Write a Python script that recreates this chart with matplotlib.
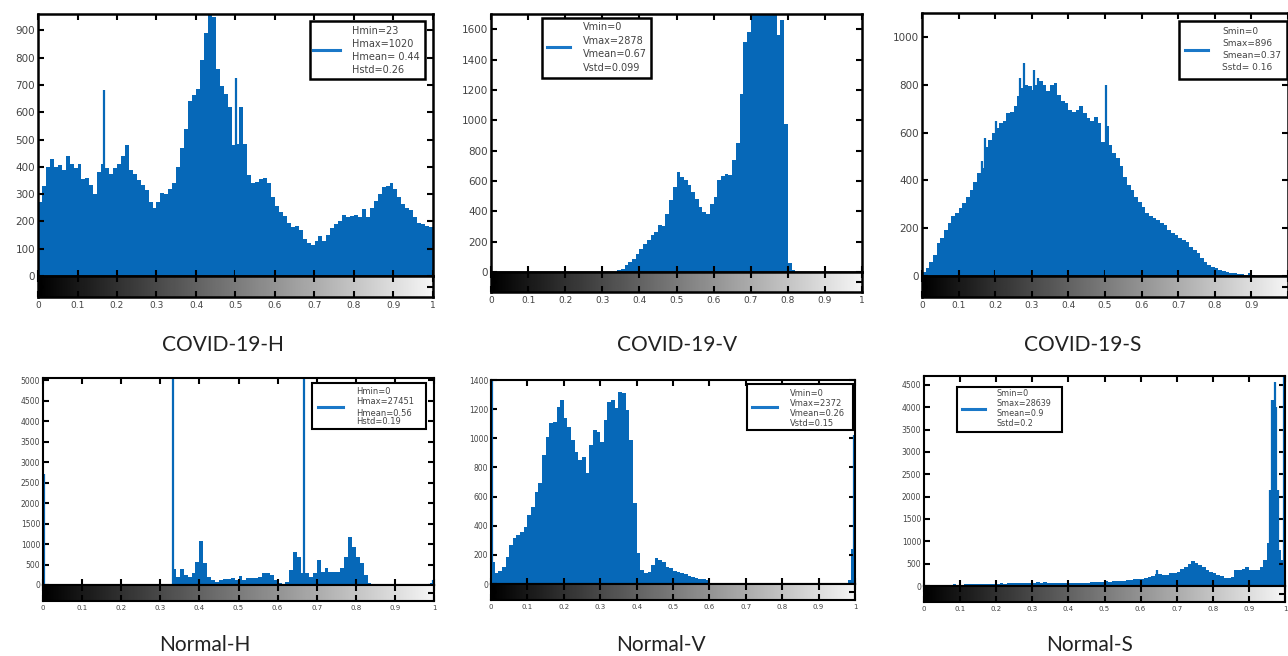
import numpy as np
import matplotlib
matplotlib.use("Agg")
import matplotlib.pyplot as plt
from matplotlib.patches import Rectangle
from matplotlib.lines import Line2D

# histogram counts, one value per 0.01-wide bin from 0 to 1
covid_h = [270, 330, 400, 430, 400, 405, 390, 440, 410, 395,
           410, 355, 360, 335, 300, 380, 410, 395, 375, 395,
           410, 440, 480, 390, 375, 350, 335, 315, 270, 250,
           270, 305, 300, 320, 340, 400, 470, 540, 640, 665,
           685, 790, 890, 980, 950, 760, 695, 668, 620, 480,
           485, 620, 485, 370, 340, 345, 355, 360, 340, 290,
           255, 235, 220, 195, 178, 185, 170, 135, 120, 115,
           130, 145, 130, 150, 175, 190, 200, 225, 215, 220,
           225, 215, 245, 215, 250, 275, 300, 325, 330, 340,
           320, 290, 265, 250, 240, 215, 195, 190, 182, 180]
covid_h_spike_x = [0.168, 0.502]
covid_h_spike_y = [680, 725]

covid_v = [0] * 30 + [
           0, 0, 0, 3, 10, 22, 44, 66, 88, 121,
           154, 187, 209, 242, 265, 310, 305, 385, 473, 561,
           660, 627, 605, 572, 528, 484, 429, 396, 380, 451,
           495, 605, 631, 649, 638, 737, 850, 1170, 1515, 1580,
           1900, 2300, 2878, 2600, 2400, 2200, 2000, 1560, 1660, 975,
           60, 10, 0, 0, 0, 0, 0, 0, 0, 0,
           0, 0, 0, 0, 0, 0, 0, 0, 0, 0]
covid_v_spike_x = []
covid_v_spike_y = []

covid_s = [18, 32, 60, 88, 137, 158, 193, 221, 249, 263,
           284, 304, 332, 360, 395, 430, 450, 540, 570, 598,
           619, 640, 647, 681, 688, 709, 751, 786, 800, 793,
           779, 800, 814, 800, 772, 800, 807, 758, 730, 723,
           695, 688, 695, 709, 681, 660, 647, 667, 640, 560,
           626, 549, 514, 493, 458, 416, 381, 360, 332, 311,
           290, 263, 249, 242, 235, 223, 214, 193, 179, 172,
           158, 151, 144, 123, 109, 95, 74, 60, 46, 39,
           32, 25, 22, 18, 14, 11, 8, 8, 4, 11,
           3, 2, 1, 0, 0, 0, 0, 0, 0, 0]
covid_s_spike_x = [0.163, 0.172, 0.203, 0.268, 0.28, 0.307, 0.318, 0.502]
covid_s_spike_y = [480, 578, 650, 830, 890, 862, 830, 800]

normal_h = [0] * 30 + [
            0, 0, 0, 400, 200, 400, 244, 200, 285, 560,
            1070, 528, 200, 122, 81, 122, 138, 146, 163, 122,
            220, 122, 163, 163, 180, 200, 285, 285, 244, 122,
            40, 0, 81, 366, 800, 690, 285, 285, 200, 285,
            610, 325, 407, 325, 309, 325, 407, 690, 1179, 935,
            690, 528, 244, 40, 0, 0, 0, 0, 0, 0,
            0, 0, 0, 0, 0, 0, 0, 0, 0, 60]
normal_h_spike_x = [0.002, 0.333, 0.667, 0.998]
normal_h_spike_y = [2700, 27451, 27451, 120]

normal_v = [150, 73, 92, 119, 188, 268, 313, 336, 359, 394,
            474, 531, 634, 691, 886, 1011, 1103, 1114, 1217, 1263,
            1137, 1080, 988, 908, 851, 874, 760, 954, 1057, 1046,
            977, 1126, 1252, 1263, 1206, 1320, 1309, 1194, 988, 554,
            211, 96, 73, 85, 130, 176, 165, 153, 119, 108,
            89, 80, 73, 66, 57, 50, 43, 34, 32, 27,
            9, 0, 0, 0, 0, 0, 0, 0, 0, 0,
            0, 0, 0, 0, 0, 0, 0, 0, 0, 0,
            0, 0, 0, 0, 0, 0, 0, 0, 0, 0,
            0, 0, 0, 0, 0, 0, 0, 0, 30, 240]
normal_v_spike_x = [0.002, 0.998]
normal_v_spike_y = [2372, 1020]

normal_s = [5, 5, 8, 8, 10, 10, 12, 15, 40, 30,
            30, 35, 35, 35, 40, 40, 45, 45, 50, 50,
            55, 60, 55, 60, 65, 70, 65, 70, 75, 70,
            75, 80, 75, 85, 70, 75, 70, 70, 65, 65,
            60, 60, 60, 65, 70, 75, 80, 85, 90, 100,
            110, 100, 105, 110, 120, 115, 130, 140, 150, 155,
            160, 180, 200, 230, 270, 260, 240, 250, 280, 300,
            320, 380, 433, 500, 550, 520, 480, 420, 358, 320,
            283, 250, 224, 190, 172, 209, 358, 358, 380, 433,
            358, 358, 358, 433, 582, 955, 2150, 2150, 800, 580]
normal_s_spike_x = [0.645, 0.958, 0.964, 0.968, 0.972, 0.976, 0.98, 0.998]
normal_s_spike_y = [350, 2150, 4160, 4160, 4575, 4015, 2150, 28639]

stats = [["Hmin=23", "Hmax=1020", "Hmean= 0.44", "Hstd=0.26"],
         ["Vmin=0", "Vmax=2878", "Vmean=0.67", "Vstd=0.099"],
         ["Smin=0", "Smax=896", "Smean=0.37", "Sstd= 0.16"],
         ["Hmin=0", "Hmax=27451", "Hmean=0.56", "Hstd=0.19"],
         ["Vmin=0", "Vmax=2372", "Vmean=0.26", "Vstd=0.15"],
         ["Smin=0", "Smax=28639", "Smean=0.9", "Sstd=0.2"]]
captions = ["COVID-19-H", "COVID-19-V", "COVID-19-S", "Normal-H", "Normal-V", "Normal-S"]
y_tops = [960, 1700, 1100, 5050, 1400, 4700]
y_steps = [100, 200, 200, 500, 200, 500]
y_last = [900, 1600, 1000, 5000, 1400, 4500]

series = [(covid_h, covid_h_spike_x, covid_h_spike_y),
          (covid_v, covid_v_spike_x, covid_v_spike_y),
          (covid_s, covid_s_spike_x, covid_s_spike_y),
          (normal_h, normal_h_spike_x, normal_h_spike_y),
          (normal_v, normal_v_spike_x, normal_v_spike_y),
          (normal_s, normal_s_spike_x, normal_s_spike_y)]

# layout in pixels of the 1288x656 picture: left, right, top, axis-zero, colorbar bottom
boxes = [(38, 433, 14, 276, 297), (491, 862, 14, 272, 292), (922, 1288, 13, 276, 297),
         (43, 434, 378, 585, 601), (491, 855, 380, 584, 600), (924, 1285, 376, 586, 602)]
# legend: box (l, t, r, b), sample line (x0, x1, y), text x, line ys, font size
legends = [((310, 21, 425, 79), (313, 340, 50), 352, [31, 44, 57, 70], 7),
           ((542, 18, 651, 78), (547, 570, 47), 583, [27, 41, 54, 68], 7),
           ((1179, 21, 1287, 79), (1185, 1208, 50), 1222, [31, 43, 55, 68], 6.5),
           ((312, 383, 426, 429), (318, 343, 407), 356, [392, 402, 413, 422], 6),
           ((747, 384, 853, 430), (752, 777, 407), 790, [393, 403, 413, 423], 6),
           ((957, 387, 1062, 432), (962, 985, 409), 997, [394, 403, 413, 423], 5.8)]
caption_pos = [(223, 345), (677, 345), (1083, 345), (205, 645), (661, 645), (1090, 645)]

W, H = 1288, 656
BLUE = "#0668b8"
LEG_BLUE = "#1a78c8"
TXT = "#444444"

fig = plt.figure(figsize=(W / 100, H / 100), dpi=100)
fig.patch.set_facecolor("white")


def fx(x):
    return x / W


def fy(y):
    return 1 - y / H


xt = np.round(np.arange(0, 1.01, 0.1), 1)
xlabels = ["0"] + [f"{v:.1f}" for v in xt[1:-1]] + ["1"]
gradient = np.linspace(0, 1, 256)[None, :]

for i in range(6):
    counts, sx, sy = series[i]
    L, R, T, B, CB = boxes[i]
    top_row = i < 3
    lw = 1.8 if top_row else 1.5
    ysize = 7.5 if top_row else 5.5
    xsize = 6.5 if top_row else 5

    ax = fig.add_axes([fx(L), fy(B), (R - L) / W, (B - T) / H])
    edges = np.linspace(0, 1, len(counts) + 1)
    ax.stairs(counts, edges, fill=True, color=BLUE, linewidth=0)
    if sx:
        ax.vlines(sx, 0, sy, color=BLUE, linewidth=1.6)
    ax.set_xlim(0, 1)
    ax.set_ylim(0, y_tops[i])
    ax.set_xticks(xt)
    ax.set_xticklabels([])
    ax.set_yticks(np.arange(0, y_last[i] + 1, y_steps[i]))
    ax.tick_params(direction="in", top=True, right=True, length=4, width=1.5,
                   labelsize=ysize, labelcolor=TXT, pad=2)
    for s in ax.spines.values():
        s.set_linewidth(lw)

    cax = fig.add_axes([fx(L), fy(CB), (R - L) / W, (CB - B) / H])
    cax.imshow(gradient, cmap="gray", aspect="auto", extent=[0, 1, 0, 1], vmin=0, vmax=1.04)
    cax.set_xlim(0, 1)
    cax.set_ylim(0, 1)
    cax.set_xticks(xt)
    # the third panel runs off the right edge, so its "1" is not visible
    labels = xlabels[:-1] + [""] if i == 2 else xlabels
    cax.set_xticklabels(labels)
    cax.set_yticks([0.5])
    cax.set_yticklabels([])
    cax.tick_params(direction="in", top=True, right=True, length=4, width=1.5,
                    labelsize=xsize, labelcolor=TXT, pad=3)
    for s in cax.spines.values():
        s.set_linewidth(lw)

    (bl, bt, br, bb), (lx0, lx1, ly), tx, tys, fs = legends[i]
    fig.add_artist(Rectangle((fx(bl), fy(bb)), (br - bl) / W, (bb - bt) / H,
                             transform=fig.transFigure, facecolor="white",
                             edgecolor="black", linewidth=lw, zorder=5))
    fig.add_artist(Line2D([fx(lx0), fx(lx1)], [fy(ly), fy(ly)], transform=fig.transFigure,
                          color=LEG_BLUE, linewidth=2.2, zorder=6))
    for line, ty in zip(stats[i], tys):
        fig.text(fx(tx), fy(ty), line, ha="left", va="center", fontsize=fs,
                 color=TXT, zorder=7)

    cx, cy = caption_pos[i]
    fig.text(fx(cx), fy(cy), captions[i], ha="center", va="center", fontsize=15,
             family="Lato", color="#222222")

fig.savefig("out.png", dpi=100)
